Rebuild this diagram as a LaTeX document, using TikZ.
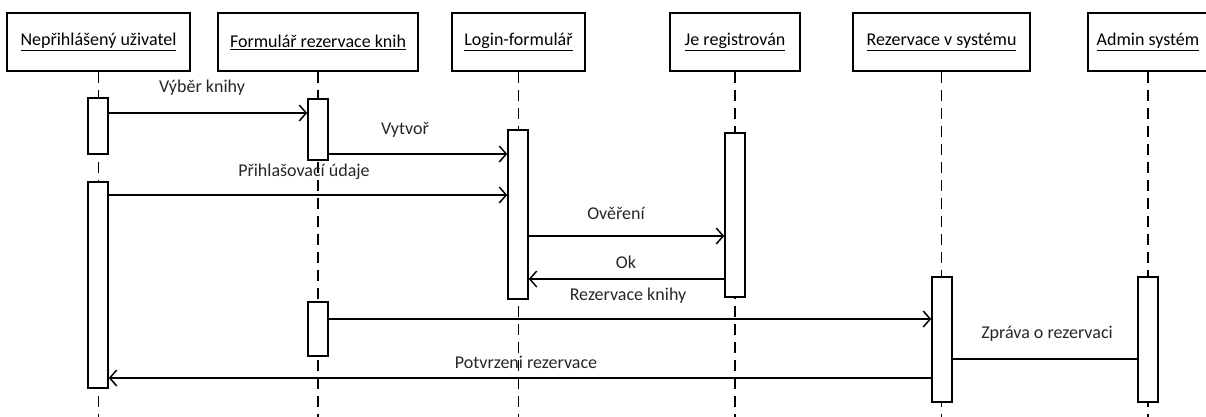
\documentclass[tikz,border=0pt]{standalone}
\usepackage{fontspec}
\setmainfont{Carlito}
\usetikzlibrary{arrows.meta}

\begin{document}
\begin{tikzpicture}[
  x=1pt, y=-1pt,
  font=\fontsize{18}{21}\selectfont,
  obj/.style={rectangle, draw, line width=1.6pt, minimum height=58pt,
              inner sep=0pt, align=center},
  act/.style={rectangle, draw, fill=white, line width=1.5pt,
              minimum width=20pt, inner sep=0pt},
  life/.style={line width=1.5pt, dash pattern=on 11pt off 7pt},
  msg/.style={line width=1.5pt, -{Straight Barb[length=7pt,width=16pt]}},
  reply/.style={line width=1.5pt},
  lbl/.style={inner sep=1pt, text=black!85},
]
\useasboundingbox (0,0) rectangle (1206,416);
\coordinate (bottom) at (0,417);

% Objects
\node[obj, minimum width=183pt] (user) at (98.5,42) {\underline{Nepřihlášený uživatel}};
\node[obj, minimum width=200pt] (form) at (318,42) {\underline{Formulář rezervace knih}};
\node[obj, minimum width=133pt] (login) at (518.5,42) {\underline{Login-formulář}};
\node[obj, minimum width=130pt] (reg) at (735,42) {\underline{Je registrován}};
\node[obj, minimum width=177pt] (rez) at (941.5,42) {\underline{Rezervace v systému}};
\node[obj, minimum width=120pt] (admin) at (1148,42) {\underline{Admin systém}};

% Lifelines
\foreach \o in {user,form,login,reg,rez,admin}
  \draw[life] (\o.south) -- (\o.south |- bottom);

% Activations
\node[act, minimum height=56pt] (userA) at (98,126) {};
\node[act, minimum height=206pt] (userB) at (98,285) {};
\node[act, minimum height=61pt] (formA) at (318,129.5) {};
\node[act, minimum height=54pt] (formB) at (318,329) {};
\node[act, minimum height=169pt] (loginA) at (518,214.5) {};
\node[act, minimum height=164pt] (regA) at (735,215) {};
\node[act, minimum height=125pt] (rezA) at (942,339.5) {};
\node[act, minimum height=125pt] (adminA) at (1148,339.5) {};

% Message levels
\coordinate (m1) at (0,113);
\coordinate (m2) at (0,154);
\coordinate (m3) at (0,195);
\coordinate (m4) at (0,236);
\coordinate (m5) at (0,279);
\coordinate (m6) at (0,319);
\coordinate (m7) at (0,359);
\coordinate (m8) at (0,378);

% Messages
\draw[msg] (userA.east |- m1) -- (formA.west |- m1);
\draw[msg] (formA.east |- m2) -- (loginA.west |- m2);
\draw[msg] (userB.east |- m3) -- (loginA.west |- m3);
\draw[msg] (loginA.east |- m4) -- (regA.west |- m4);
\draw[msg] (regA.west |- m5) -- (loginA.east |- m5);
\draw[msg] (formB.east |- m6) -- (rezA.west |- m6);
\draw[reply] (rezA.east |- m7) -- (adminA.west |- m7);
\draw[msg] (rezA.west |- m8) -- (userB.east |- m8);

% Labels
\node[lbl] (tVyber) at (202,88) {Výběr knihy};
\node[lbl] (tVytvor) at (405,130) {Vytvoř};
\node[lbl] (tPrihl) at (304,172) {Přihlašovací údaje};
\node[lbl] (tOver) at (616,213) {Ověření};
\node[lbl] (tOk) at (626,262) {Ok};
\node[lbl] (tRez) at (628,296) {Rezervace knihy};
\node[lbl] (tZprava) at (1047,334) {Zpráva o rezervaci};
\node[lbl] (tPotvr) at (526,362) {Potvrzeni rezervace};
\end{tikzpicture}
\end{document}
